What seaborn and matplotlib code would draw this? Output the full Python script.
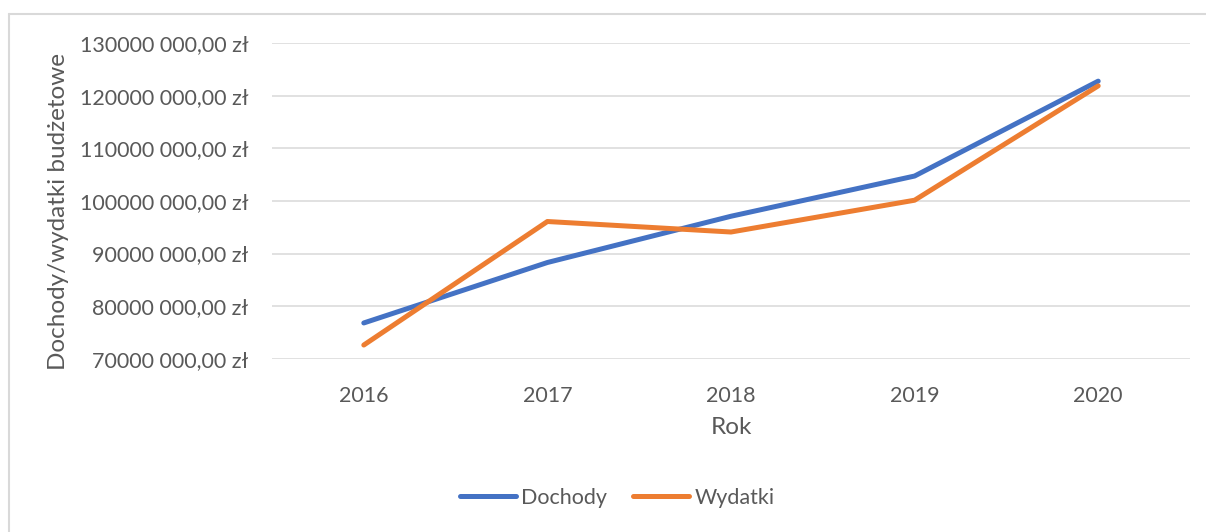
import matplotlib
matplotlib.use("Agg")
import matplotlib.pyplot as plt
from matplotlib.ticker import FuncFormatter
from matplotlib.lines import Line2D
import seaborn as sns
import pandas as pd

years = ["2016", "2017", "2018", "2019", "2020"]
dochody = [76_800_000, 88_300_000, 97_100_000, 104_750_000, 122_800_000]
wydatki = [72_600_000, 96_100_000, 94_100_000, 100_150_000, 121_900_000]
series_names = ["Dochody", "Wydatki"]
colors = ["#4472C4", "#ED7D31"]
yticks = [70_000_000, 80_000_000, 90_000_000, 100_000_000, 110_000_000, 120_000_000, 130_000_000]

df = pd.DataFrame({
    "Rok": years * 2,
    "Wartość": dochody + wydatki,
    "Seria": [series_names[0]] * len(years) + [series_names[1]] * len(years),
})

sns.set_theme(style="white")
plt.rcParams["font.family"] = ["Lato", "DejaVu Sans"]
txt = "#595959"
W, H = 1206, 532
fig = plt.figure(figsize=(W / 100, H / 100), dpi=100)
fig.patch.set_facecolor("white")

L, R, T, B = 272, 1190, 43.3, 358.7
ax = fig.add_axes([L / W, 1 - B / H, (R - L) / W, (B - T) / H])

sns.lineplot(data=df, x="Rok", y="Wartość", hue="Seria", palette=colors, ax=ax,
             linewidth=3.6, legend=False, sort=False)
for ln in ax.get_lines():
    ln.set_solid_capstyle("round")
    ln.set_solid_joinstyle("round")

ax.set_xlim(-0.5, len(years) - 0.5)
ax.set_ylim(yticks[0], yticks[-1])
ax.set_yticks(yticks)

def fmt(v, pos):
    s = f"{int(round(v)):d}"
    return s[:-3] + " " + s[-3:] + ",00 zł"

ax.yaxis.set_major_formatter(FuncFormatter(fmt))
ax.grid(axis="y", color="#D9D9D9", linewidth=1.1)
ax.grid(axis="x", visible=False)
for s in ax.spines.values():
    s.set_visible(False)
ax.tick_params(axis="both", length=0, labelsize=15.5, labelcolor=txt)
ax.tick_params(axis="y", pad=17)
ax.tick_params(axis="x", pad=20)
ax.set_axisbelow(True)

ax.set_xlabel("Rok", fontsize=17.5, color=txt, va="center")
ax.xaxis.set_label_coords(0.5, (B - 428) / (B - T))
ax.set_ylabel("Dochody/wydatki budżetowe", fontsize=17.5, color=txt, va="center")
ax.yaxis.set_label_coords((59 - L) / (R - L), (B - 212) / (B - T))

handles = [Line2D([0], [0], color=c, linewidth=3.6, solid_capstyle="round") for c in colors]
fig.legend(handles, series_names, loc="center", bbox_to_anchor=(617 / W, 1 - 498 / H),
           ncol=2, frameon=False, fontsize=15.5, labelcolor=txt,
           handlelength=2.6, handletextpad=0.25, columnspacing=1.2)

# outer chart border (left and top visible)
fig.add_artist(Line2D([9 / W, 9 / W], [0, 1 - 14 / H], transform=fig.transFigure,
                      color="#D9D9D9", linewidth=1.5))
fig.add_artist(Line2D([9 / W, 1], [1 - 14 / H, 1 - 14 / H], transform=fig.transFigure,
                      color="#D9D9D9", linewidth=1.5))

fig.savefig("out.png", dpi=100)
